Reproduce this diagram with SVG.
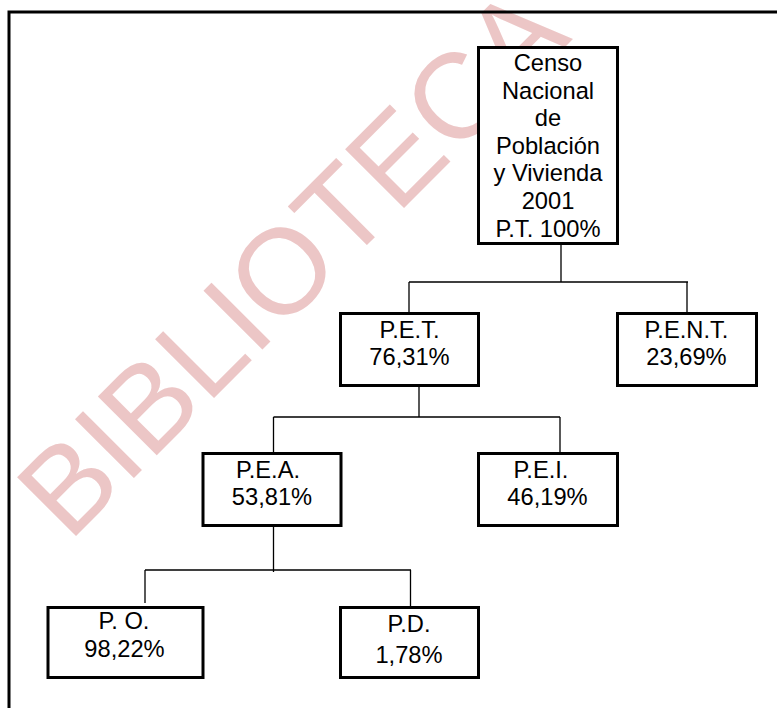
<svg xmlns="http://www.w3.org/2000/svg" width="777" height="708" viewBox="0 0 777 708">
<style>
.wm{font-family:"Liberation Sans",Arial,sans-serif;font-size:121px;fill:#ecc6c6}
.box{fill:#fff;stroke:#000;stroke-width:3}
.t{font-family:"Liberation Sans",Arial,sans-serif;font-size:23.7px;fill:#000;text-anchor:middle}
.c{fill:none;stroke:#000;stroke-width:1.3}
</style>
<rect width="777" height="708" fill="#fff"/>
<text class="wm" transform="translate(69,543) rotate(-45)">BIBLIOTECA</text>
<rect x="9" y="12" width="800" height="720" fill="none" stroke="#000" stroke-width="3"/>
<g id="connectors">
<path class="c" d="M561,244 V282 M409,282 H688 M409,282 V313 M687,282 V313"/>
<path class="c" d="M419,379 V417 M273.5,417 H560 M273.5,417 V474 M560,417 V453"/>
<path class="c" d="M273.5,523 V572 M145,570 H411 M145,570 V603 M410.5,570 V606"/>
</g>
<g id="root">
<rect class="box" x="478.5" y="47.5" width="139" height="196"/>
<text class="t" x="548" y="71">Censo</text>
<text class="t" x="548" y="98.6">Nacional</text>
<text class="t" x="548" y="126.2">de</text>
<text class="t" x="548" y="153.8">Población</text>
<text class="t" x="548" y="181.4">y Vivienda</text>
<text class="t" x="548" y="209">2001</text>
<text class="t" x="548" y="236.6">P.T. 100%</text>
</g>
<g id="pet">
<rect class="box" x="340.5" y="313.5" width="138" height="72"/>
<text class="t" x="409.5" y="338.3">P.E.T.</text>
<text class="t" x="409.5" y="365">76,31%</text>
</g>
<g id="pent">
<rect class="box" x="617.5" y="313.5" width="139" height="72"/>
<text class="t" x="686.5" y="338.3">P.E.N.T.</text>
<text class="t" x="686.5" y="365">23,69%</text>
</g>
<g id="pea">
<rect class="box" x="203" y="453.5" width="138" height="72"/>
<text class="t" x="268" y="478.3">P.E.A.</text>
<text class="t" x="272" y="505">53,81%</text>
</g>
<g id="pei">
<rect class="box" x="478.5" y="453.5" width="139" height="72"/>
<text class="t" x="541" y="478.3">P.E.I.</text>
<text class="t" x="547.5" y="505">46,19%</text>
</g>
<g id="po">
<rect class="box" x="48" y="607.5" width="155" height="70"/>
<text class="t" x="124" y="629.3">P. O.</text>
<text class="t" x="124.5" y="657.3">98,22%</text>
</g>
<g id="pd">
<rect class="box" x="340.5" y="607.5" width="138" height="70"/>
<text class="t" x="409" y="631.7">P.D.</text>
<text class="t" x="409" y="662.7">1,78%</text>
</g>
</svg>
